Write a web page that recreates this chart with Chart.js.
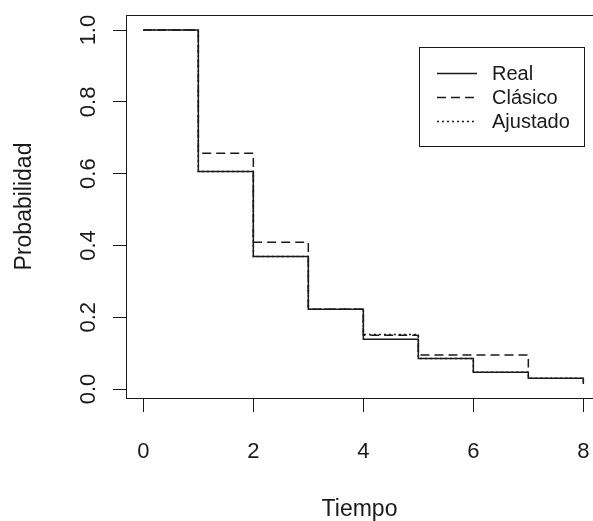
<!DOCTYPE html>
<html>
<head>
<meta charset="utf-8">
<script src="https://cdn.jsdelivr.net/npm/chart.js@4.4.1/dist/chart.umd.min.js"></script>
<style>
  html, body { margin: 0; padding: 0; background: #fff; }
  canvas { display: block; }
</style>
</head>
<body>
<canvas id="myChart" width="593" height="521"></canvas>
<script>
// valores
var tiempo = [0, 1, 2, 3, 4, 5, 6, 7, 8];
var real = [1.0, 0.606, 0.369, 0.222, 0.139, 0.085, 0.047, 0.030, 0.014];
var tiempoClasico = [0, 1, 2, 3, 4, 5, 6, 7];
var clasico = [1.0, 0.657, 0.409, 0.222, 0.150, 0.095, 0.095, 0.060];
var ajustado = [1.0, 0.606, 0.369, 0.222, 0.152, 0.085, 0.047, 0.030, 0.014];
var xTicks = [0, 2, 4, 6, 8];
var yTicks = [0.0, 0.2, 0.4, 0.6, 0.8, 1.0];
var yTickLabels = ['0.0', '0.2', '0.4', '0.6', '0.8', '1.0'];

var fontName = '"Liberation Sans", Arial, sans-serif';
var ink = '#1a1a1a';

function pts(xs, ys) {
    var out = [];
    for (var i = 0; i < xs.length; i++) {
        out.push({x: xs[i], y: ys[i]});
    }
    return out;
}

// caja, etiquetas del eje y, titulo y leyenda al estilo de R
var rPlot = {
    id: 'rPlot',
    afterDraw: function(chart) {
        var ctx = chart.ctx;
        var area = chart.chartArea;
        var ys = chart.scales.y;
        ctx.save();
        ctx.strokeStyle = ink;
        ctx.lineWidth = 1;
        ctx.beginPath();
        ctx.moveTo(area.left, area.top + 0.5);
        ctx.lineTo(area.right, area.top + 0.5);
        ctx.stroke();

        // etiquetas del eje y, giradas
        ctx.fillStyle = ink;
        ctx.font = '22px ' + fontName;
        ctx.textAlign = 'center';
        ctx.textBaseline = 'alphabetic';
        for (var i = 0; i < yTicks.length; i++) {
            var py = ys.getPixelForValue(yTicks[i]);
            ctx.save();
            ctx.translate(95, py);
            ctx.rotate(-Math.PI / 2);
            ctx.fillText(yTickLabels[i], 0, 0);
            ctx.restore();
        }

        // leyenda
        var bx = 419, by = 47, bw = 165, bh = 99;
        ctx.strokeStyle = ink;
        ctx.lineWidth = 1;
        ctx.strokeRect(bx + 0.5, by + 0.5, bw, bh);
        ctx.font = '20px ' + fontName;
        ctx.textAlign = 'left';
        ctx.textBaseline = 'middle';
        chart.data.datasets.forEach(function(ds, k) {
            var ly = 73.5 + k * 24;
            ctx.save();
            ctx.setLineDash(ds.borderDash || []);
            ctx.lineWidth = ds.borderWidth;
            ctx.strokeStyle = ds.borderColor;
            ctx.beginPath();
            ctx.moveTo(437, ly);
            ctx.lineTo(477, ly);
            ctx.stroke();
            ctx.restore();
            ctx.fillText(ds.label, 492, ly + 1);
        });
        ctx.restore();
    }
};

var ctx = document.getElementById('myChart').getContext('2d');
var chartInstance = new Chart(ctx, {
    type: 'line',
    data: {
        datasets: [{
            label: 'Real',
            data: pts(tiempo, real),
            borderColor: ink,
            borderWidth: 1.5,
            stepped: true
        }, {
            label: 'Clásico',
            data: pts(tiempoClasico, clasico),
            borderColor: ink,
            borderWidth: 1.5,
            borderDash: [9, 5],
            stepped: true
        }, {
            label: 'Ajustado',
            data: pts(tiempo, ajustado),
            borderColor: ink,
            borderWidth: 1.5,
            borderDash: [2, 3],
            stepped: true
        }]
    },
    options: {
        responsive: false,
        animation: false,
        devicePixelRatio: 1,
        layout: { padding: { left: 0, right: 0, top: 15, bottom: 0 } },
        elements: { point: { radius: 0 }, line: { tension: 0 } },
        plugins: {
            legend: { display: false },
            tooltip: { enabled: false }
        },
        scales: {
            x: {
                type: 'linear',
                min: -0.315,
                max: 8.176,
                afterBuildTicks: function(scale) {
                    scale.ticks = xTicks.map(function(v) { return {value: v}; });
                },
                afterFit: function(scale) {
                    scale.height = 123;
                    scale.paddingLeft = 0;
                    scale.paddingRight = 0;
                },
                grid: { drawOnChartArea: false, drawTicks: true, tickLength: 14, color: ink },
                border: { display: true, color: ink, width: 1 },
                ticks: {
                    color: ink,
                    font: { family: fontName, size: 22 },
                    padding: 27,
                    maxRotation: 0,
                    callback: function(v) { return String(v); }
                },
                title: {
                    display: true,
                    text: 'Tiempo',
                    color: ink,
                    font: { family: fontName, size: 23 },
                    padding: { top: 0, bottom: -2 }
                }
            },
            y: {
                type: 'linear',
                min: -0.025,
                max: 1.042,
                afterBuildTicks: function(scale) {
                    scale.ticks = yTicks.map(function(v) { return {value: v}; });
                },
                afterFit: function(scale) {
                    scale.width = 126;
                    scale.paddingTop = 0;
                    scale.paddingBottom = 0;
                },
                grid: { drawOnChartArea: false, drawTicks: true, tickLength: 13, color: ink },
                border: { display: true, color: ink, width: 1 },
                ticks: { display: false },
                title: {
                    display: true,
                    text: 'Probabilidad',
                    color: ink,
                    font: { family: fontName, size: 23 },
                    padding: { top: 11, bottom: 0 }
                }
            }
        }
    },
    plugins: [rPlot]
});
</script>
</body>
</html>
